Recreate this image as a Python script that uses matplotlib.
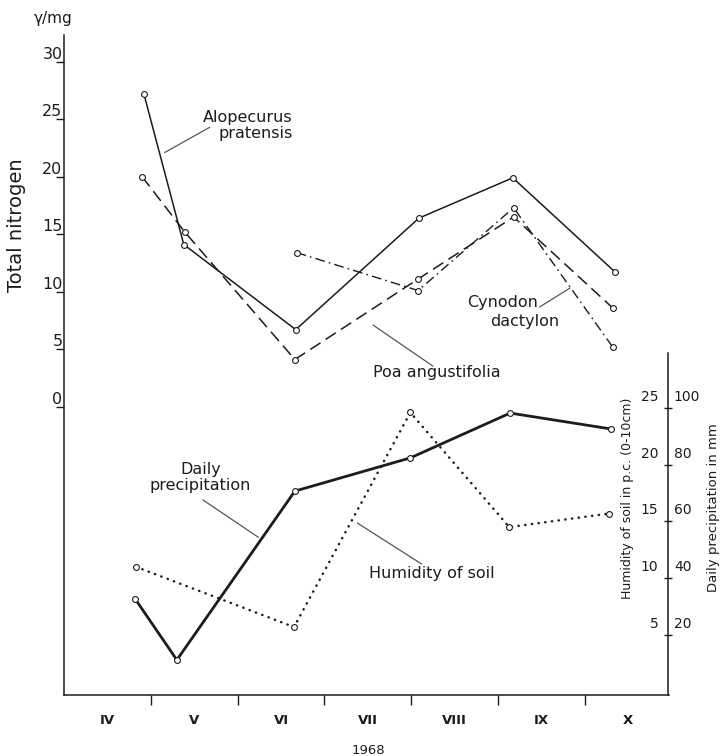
import matplotlib
matplotlib.use('Agg')
import matplotlib.pyplot as plt
from matplotlib.transforms import ScaledTranslation

# ---------------- data ----------------
months = ['IV', 'V', 'VI', 'VII', 'VIII', 'IX', 'X']
year_label = '1968'

# sampling dates in month units (0 = start of April)
alo_x = [0.92, 1.38, 2.67, 4.09, 5.17, 6.35]
alo_n = [27.2, 14.1, 6.7, 16.4, 19.9, 11.7]
poa_x = [0.90, 1.39, 2.66, 4.08, 5.18, 6.32]
poa_n = [20.0, 15.2, 4.1, 11.1, 16.5, 8.6]
cyn_x = [2.68, 4.08, 5.18, 6.32]
cyn_n = [13.4, 10.1, 17.3, 5.2]
prec_x = [0.82, 1.30, 2.66, 3.99, 5.14, 6.30]
prec_mm = [32.7, 11.2, 70.7, 82.4, 98.2, 92.6]
hum_x = [0.83, 2.65, 3.99, 5.13, 6.28]
hum_pc = [11.0, 5.7, 24.6, 14.5, 15.7]

n_ticks = [0, 5, 10, 15, 20, 25, 30]
hum_ticks = [5, 10, 15, 20, 25]
prec_ticks = [20, 40, 60, 80, 100]

# ---------------- style ----------------
plt.rcParams['font.family'] = ['DejaVu Sans']
INK = '#1c1c1c'
LEAD = '#555555'
N_LIM = (-25.07, 32.32)
H_LIM = (-0.29, 57.86)
P_LIM = (H_LIM[0] * 4, H_LIM[1] * 4)
XLIM = (0, 6.97)

fig = plt.figure(figsize=(7.22, 7.56), dpi=100)
rect = [64 / 722, 61 / 756, 605 / 722, 660 / 756]
ax = fig.add_axes(rect)
ax.set_xlim(*XLIM)
ax.set_ylim(*N_LIM)
for s in ('top', 'right'):
    ax.spines[s].set_visible(False)
for s in ('left', 'bottom'):
    ax.spines[s].set_linewidth(1.1)
    ax.spines[s].set_color(INK)

mk = dict(marker='o', markersize=4.2, markerfacecolor='white',
          markeredgecolor=INK, markeredgewidth=0.8, color=INK)

ax.plot(alo_x, alo_n, linestyle='-', linewidth=1.1, **mk)
ax.plot(poa_x, poa_n, linestyle=(0, (8, 4)), linewidth=1.1, **mk)
ax.plot(cyn_x, cyn_n, linestyle=(0, (7, 3, 1.2, 3)), linewidth=1.0, **mk)

# y ticks (nitrogen)
ax.set_yticks(n_ticks)
ax.set_yticklabels([str(v) for v in n_ticks])
ax.tick_params(axis='y', direction='out', length=6, width=1, pad=-5,
               labelsize=11.5, colors=INK)
plt.setp(ax.get_yticklabels(), va='bottom')

# x ticks: boundaries as major, labels centred on minor
ax.set_xticks(range(1, 7))
ax.set_xticklabels([])
ax.set_xticks([i + 0.5 for i in range(len(months))], minor=True)
ax.set_xticklabels(months, minor=True, fontweight='bold', fontsize=9.5)
ax.tick_params(axis='x', which='major', direction='out', length=7, width=1,
               colors=INK)
ax.tick_params(axis='x', which='minor', length=0, pad=14, colors=INK)

# lower section: humidity and precipitation
ax_h = ax.twinx()
ax_h.set_ylim(*H_LIM)
ax_p = ax.twinx()
ax_p.set_ylim(*P_LIM)
for a in (ax_h, ax_p):
    for s in a.spines.values():
        s.set_visible(False)
    a.set_yticks([])

ax_h.plot(hum_x, hum_pc, linestyle=(0, (0.1, 2.6)), linewidth=1.8,
          dash_capstyle='round', **mk)
ax_p.plot(prec_x, prec_mm, linestyle='-', linewidth=2.0, **mk)

# right-hand scale axes (humidity labels left of line, precipitation right)
lab = fig.add_axes([668 / 722, rect[1], 0.0004, rect[3]])
lab.set_ylim(*H_LIM)
lab.patch.set_visible(False)
for s in ('top', 'right', 'bottom'):
    lab.spines[s].set_visible(False)
lab.spines['left'].set_bounds(H_LIM[0], 29.84)
lab.spines['left'].set_linewidth(1.1)
lab.spines['left'].set_color(INK)
lab.set_xticks([])
lab.set_yticks(hum_ticks)
lab.set_yticklabels([str(v) for v in hum_ticks])
lab.tick_params(axis='y', direction='inout', length=6, width=1, pad=4,
                labelsize=10, colors=INK)
labp = lab.twinx()
labp.set_ylim(*P_LIM)
for s in labp.spines.values():
    s.set_visible(False)
labp.set_yticks(prec_ticks)
labp.set_yticklabels([str(v) for v in prec_ticks])
labp.tick_params(axis='y', length=0, pad=4, labelsize=10, colors=INK)
off = ScaledTranslation(0, 3 / 72, fig.dpi_scale_trans)
for t in list(lab.get_yticklabels()) + list(labp.get_yticklabels()):
    t.set_va('bottom')
    t.set_transform(t.get_transform() + off)

# axis titles
fig.text(17 / 722, 1 - 225 / 756, 'Total nitrogen', rotation=90,
         ha='center', va='center', fontsize=14, color=INK)
fig.text(53 / 722, 1 - 18 / 756, 'γ/mg', ha='center', va='center',
         fontsize=11, color=INK)
fig.text(628 / 722, 1 - 498 / 756, 'Humidity of soil in p.c. (0-10cm)',
         rotation=90, ha='center', va='center', fontsize=9, color=INK)
fig.text(713 / 722, 1 - 508 / 756, 'Daily precipitation in mm',
         rotation=90, ha='center', va='center', fontsize=9.5, color=INK)
fig.text(368 / 722, 1 - 750 / 756, year_label, ha='center', va='center',
         fontsize=9.5, color=INK)

# labels with leader lines
lead = dict(arrowstyle='-', color=LEAD, linewidth=0.9, shrinkA=0, shrinkB=0)
tk = dict(fontsize=11.5, color=INK)
ax.text(2.63, 24.45, 'Alopecurus\npratensis', ha='right', va='center',
        multialignment='right', linespacing=1.1, **tk)
ax.annotate('', xy=(1.16, 22.1), xytext=(1.68, 24.3), arrowprops=lead)

ax.text(4.29, 2.93, 'Poa angustifolia', ha='center', va='center', **tk)
ax.annotate('', xy=(3.56, 7.10), xytext=(4.25, 3.53), arrowprops=lead)

ax.text(5.05, 9.1, 'Cynodon', ha='center', va='center', **tk)
ax.text(5.31, 7.37, 'dactylon', ha='center', va='center', **tk)
ax.annotate('', xy=(5.83, 10.32), xytext=(5.48, 8.67), arrowprops=lead)

ax_h.text(1.57, 18.87, 'Daily\nprecipitation', ha='center', va='center',
          linespacing=1.1, **tk)
ax_h.annotate('', xy=(2.24, 13.6), xytext=(1.60, 16.9), arrowprops=lead)

ax_h.text(4.24, 10.45, 'Humidity of soil', ha='center', va='center', **tk)
ax_h.annotate('', xy=(3.38, 14.86), xytext=(4.12, 11.25), arrowprops=lead)

fig.savefig('out.png', dpi=100)
